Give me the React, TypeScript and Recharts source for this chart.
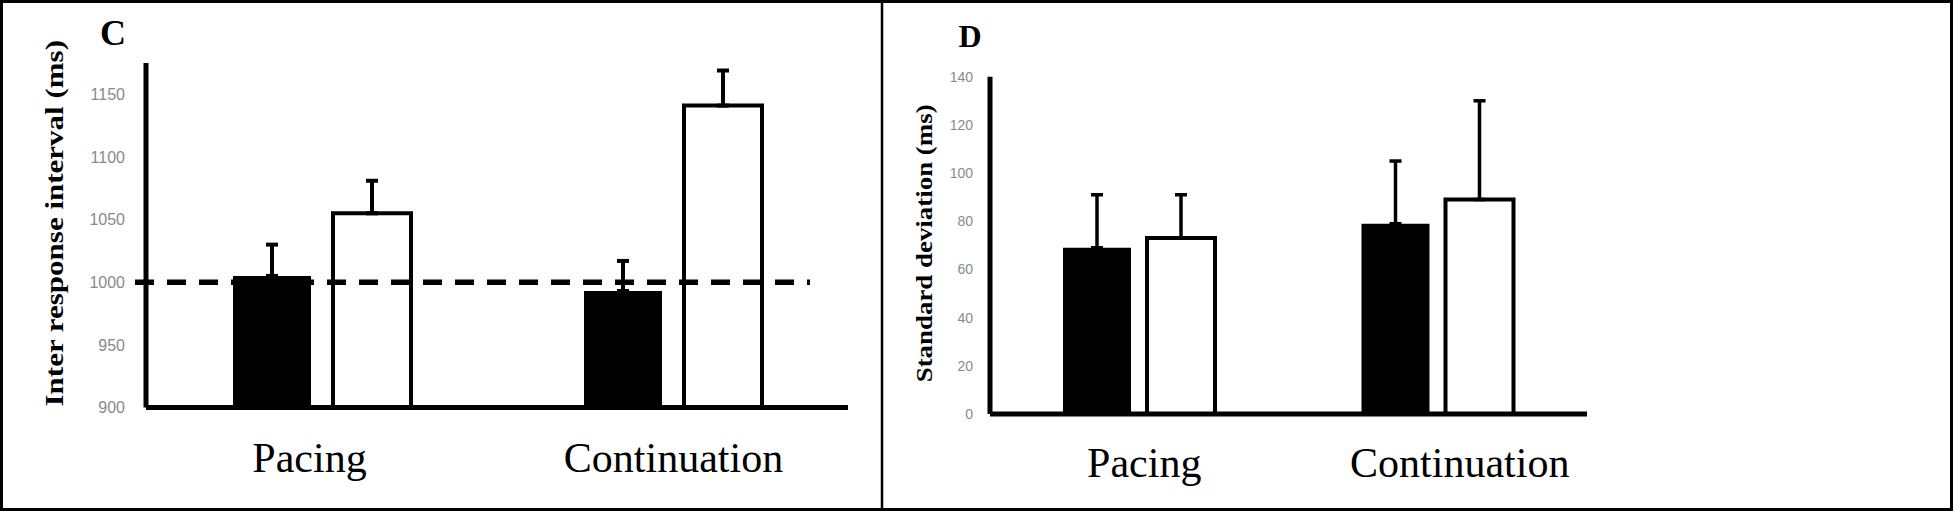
import React from 'react';
import { BarChart, Bar, XAxis, YAxis, ErrorBar, ReferenceLine } from 'recharts';

// ---------- data ----------
const categories = ['Pacing', 'Continuation'];

// Panel C: inter response interval (ms)
const irBlack = [1005, 993];
const irWhite = [1055, 1141];
const irBlackErr = [25, 24];
const irWhiteErr = [26, 28];
const irTicks = [900, 950, 1000, 1050, 1100, 1150];
const irTarget = 1000;

// Panel D: standard deviation (ms)
const sdBlack = [69, 79];
const sdWhite = [73, 89];
const sdBlackErr = [22, 26];
const sdWhiteErr = [18, 41];
const sdTicks = [0, 20, 40, 60, 80, 100, 120, 140];

const dataC = categories.map((cat, i) => ({
  cat,
  black: irBlack[i],
  white: irWhite[i],
  blackErr: [0, irBlackErr[i]],
  whiteErr: [0, irWhiteErr[i]],
}));

const dataD = categories.map((cat, i) => ({
  cat,
  black: sdBlack[i],
  white: sdWhite[i],
  blackErr: [0, sdBlackErr[i]],
  whiteErr: [0, sdWhiteErr[i]],
}));

// ---------- styles ----------
const SERIF = '"Liberation Serif", "Times New Roman", serif';
const SANS = '"Liberation Sans", Arial, sans-serif';
const labelShiftC = [-12, 1];
const labelShiftD = [5, 22];

const makeTick = (shifts: number[], baseline: number) => (props: any) => {
  const { x, y, payload, index } = props;
  const dx = shifts[index] ?? 0;
  return (
    <text
      x={x + dx}
      y={y + baseline}
      textAnchor="middle"
      fontFamily={SERIF}
      fontSize={42}
      fill="#000"
    >
      {payload.value}
    </text>
  );
};

const makeTitle = (text: string, cx: number, dy: number, fontSize: number, stretch: number, fallbackY: number) =>
  (props: any) => {
    const vb = props && props.viewBox ? props.viewBox : null;
    const cy = vb && typeof vb.y === 'number' ? vb.y + vb.height / 2 + dy : fallbackY;
    return (
      <g transform={`translate(${cx},${cy}) rotate(-90) scale(${stretch},1)`}>
        <text
          x={0}
          y={0}
          textAnchor="middle"
          dominantBaseline="central"
          fontFamily={SERIF}
          fontWeight="bold"
          fontSize={fontSize}
          fill="#000"
        >
          {text}
        </text>
      </g>
    );
  };

const dashedShape = (p: any) => (
  <line
    x1={p.x1 - 11}
    y1={p.y1}
    x2={p.x2 - 38}
    y2={p.y2}
    stroke="#000"
    strokeWidth={5.5}
    strokeDasharray="19 13"
  />
);

export default function App() {
  return (
    <div
      style={{
        position: 'absolute',
        left: 0,
        top: 0,
        width: 1954,
        height: 513,
        background: '#fff',
        overflow: 'hidden',
      }}
    >
      <svg width={1954} height={513} style={{ position: 'absolute', left: 0, top: 0 }}>
        <rect x={1.5} y={1.5} width={1950} height={508} fill="none" stroke="#000" strokeWidth={3} />
        <line x1={882} y1={0} x2={882} y2={511} stroke="#000" strokeWidth={2.5} />
        <text x={113} y={45} textAnchor="middle" fontFamily={SERIF} fontWeight="bold" fontSize={36} fill="#000">
          C
        </text>
        <text x={970} y={47} textAnchor="middle" fontFamily={SERIF} fontWeight="bold" fontSize={32} fill="#000">
          D
        </text>
      </svg>

      <div style={{ position: 'absolute', left: 0, top: 0 }}>
        <BarChart
          width={882}
          height={513}
          data={dataC}
          margin={{ top: 63, right: 34, bottom: 0, left: 0 }}
          barGap={22}
        >
          <XAxis
            dataKey="cat"
            axisLine={{ stroke: '#000', strokeWidth: 5 }}
            tickLine={false}
            tickSize={0}
            tickMargin={0}
            height={105.5}
            interval={0}
            tick={makeTick(labelShiftC, 64.5)}
          />
          <YAxis
            type="number"
            domain={[900, 1175]}
            ticks={irTicks}
            interval={0}
            width={146}
            axisLine={{ stroke: '#000', strokeWidth: 5 }}
            tickLine={false}
            tickSize={0}
            tickMargin={21}
            tick={{ fill: '#8a8a8a', fontSize: 16, fontFamily: SANS }}
            label={makeTitle('Inter response interval (ms)', 55, -12, 25, 1.24, 223)}
          />
          <Bar dataKey="black" fill="#000" barSize={78} isAnimationActive={false}>
            <ErrorBar dataKey="blackErr" width={6} strokeWidth={4} stroke="#000" isAnimationActive={false} />
          </Bar>
          <Bar dataKey="white" fill="#fff" stroke="#000" strokeWidth={4} barSize={78} isAnimationActive={false}>
            <ErrorBar dataKey="whiteErr" width={6} strokeWidth={4} stroke="#000" isAnimationActive={false} />
          </Bar>
          <ReferenceLine y={irTarget} shape={dashedShape} />
        </BarChart>
      </div>

      <div style={{ position: 'absolute', left: 882, top: 0 }}>
        <BarChart
          width={1072}
          height={513}
          data={dataD}
          margin={{ top: 76.7, right: 367, bottom: 0, left: 0 }}
          barGap={16}
        >
          <XAxis
            dataKey="cat"
            axisLine={{ stroke: '#000', strokeWidth: 5 }}
            tickLine={false}
            tickSize={0}
            tickMargin={0}
            height={99}
            interval={0}
            tick={makeTick(labelShiftD, 63)}
          />
          <YAxis
            type="number"
            domain={[0, 140]}
            ticks={sdTicks}
            interval={0}
            width={108}
            axisLine={{ stroke: '#000', strokeWidth: 5 }}
            tickLine={false}
            tickSize={0}
            tickMargin={17}
            tick={{ fill: '#8a8a8a', fontSize: 14, fontFamily: SANS }}
            label={makeTitle('Standard deviation (ms)', 42.5, -2, 23, 1.17, 243)}
          />
          <Bar dataKey="black" fill="#000" barSize={68} isAnimationActive={false}>
            <ErrorBar dataKey="blackErr" width={6} strokeWidth={3.5} stroke="#000" isAnimationActive={false} />
          </Bar>
          <Bar dataKey="white" fill="#fff" stroke="#000" strokeWidth={4} barSize={68} isAnimationActive={false}>
            <ErrorBar dataKey="whiteErr" width={6} strokeWidth={3.5} stroke="#000" isAnimationActive={false} />
          </Bar>
        </BarChart>
      </div>
    </div>
  );
}
